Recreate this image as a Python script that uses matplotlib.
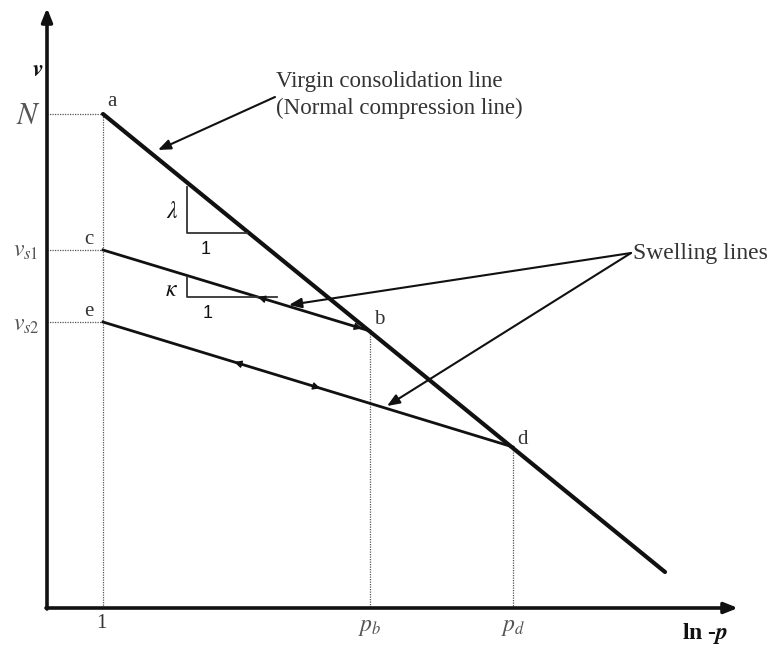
import numpy as np
import matplotlib
matplotlib.use("Agg")
import matplotlib.pyplot as plt

### DIAGRAM DATA (drawing units: x = ln p, y = v, y grows downward) ###

# axis frame
AXIS_ORIGIN = (47, 608)
AXIS_X_END = 738
AXIS_Y_END = 8

# state points
point_names = ["a", "b", "c", "d", "e"]
point_x = [103, 370, 103, 513, 103]
point_y = [114, 331, 250, 447, 322]

# normal compression line: from a, past d
ncl_x = [103, 665]
ncl_y = [114, 572]

# swelling lines: c-b and e-d
swell_x = [[103, 370], [103, 513]]
swell_y = [[250, 331], [322, 447]]

# tick marks on the axes
v_ticks = [114, 250, 322]
v_labels = [r"$N$", r"$v_{s1}$", r"$v_{s2}$"]
p_ticks = [103, 370, 513]
p_labels = ["1", r"$p_b$", r"$p_d$"]

# slope triangles (corner x, top y, bottom y, right x)
tri_lambda = (187, 187, 233, 247)
tri_kappa = (187, 277, 297, 277)

INK = "#111111"
GREY = "#555555"

plt.rcParams["font.family"] = "serif"
plt.rcParams["font.serif"] = ["Liberation Serif", "DejaVu Serif"]
plt.rcParams["mathtext.fontset"] = "stix"


def along(x0, y0, x1, y1, t):
    """point at fraction t from (x0,y0) to (x1,y1)"""
    return x0 + t * (x1 - x0), y0 + t * (y1 - y0)


def head(ax, x0, y0, x1, y1, t, back=False):
    """small arrowhead sitting on a line at fraction t"""
    tip = along(x0, y0, x1, y1, t)
    tail = along(x0, y0, x1, y1, t + (0.03 if back else -0.03))
    ax.annotate("", xy=tip, xytext=tail,
                arrowprops=dict(arrowstyle="-|>", color=INK, lw=1.0,
                                mutation_scale=11, shrinkA=0, shrinkB=0))


fig = plt.figure(figsize=(7.72, 6.46), dpi=100)
ax = fig.add_axes([0, 0, 1, 1])
ax.set_xlim(0, 772)
ax.set_ylim(646, 0)
ax.axis("off")

# axes with arrows
ox, oy = AXIS_ORIGIN
ax.annotate("", xy=(AXIS_X_END, oy), xytext=(ox - 1, oy),
            arrowprops=dict(arrowstyle="-|>,head_length=0.5,head_width=0.2",
                            color=INK, lw=2.6, mutation_scale=16,
                            shrinkA=0, shrinkB=0))
ax.annotate("", xy=(ox, AXIS_Y_END), xytext=(ox, oy + 1),
            arrowprops=dict(arrowstyle="-|>,head_length=0.5,head_width=0.2",
                            color=INK, lw=2.6, mutation_scale=16,
                            shrinkA=0, shrinkB=0))

# dotted guides
for y in v_ticks:
    ax.plot([ox, 103], [y, y], color=GREY, lw=0.9, ls=(0, (1, 1)))
for x, y in zip(p_ticks, [114, 331, 447]):
    ax.plot([x, x], [y, oy], color=GREY, lw=0.9, ls=(0, (1, 1)))

# lines
ax.plot(ncl_x, ncl_y, color=INK, lw=3.0, solid_capstyle="round")
for xs, ys in zip(swell_x, swell_y):
    ax.plot(xs, ys, color=INK, lw=2.0)

# loading / unloading arrowheads on swelling lines
(cx0, cx1), (cy0, cy1) = swell_x[0], swell_y[0]
head(ax, cx0, cy0, cx1, cy1, 0.58, back=True)
head(ax, cx0, cy0, cx1, cy1, 0.97)
(ex0, ex1), (ey0, ey1) = swell_x[1], swell_y[1]
head(ax, ex0, ey0, ex1, ey1, 0.32, back=True)
head(ax, ex0, ey0, ex1, ey1, 0.53)

# slope triangles
for (x0, ytop, ybot, xr) in [tri_lambda, tri_kappa]:
    ax.plot([x0, x0, xr], [ytop, ybot, ybot], color="#333333", lw=1.3)
ax.text(172, 212, r"$\lambda$", fontsize=17, ha="center", va="center", color=INK)
ax.text(206, 250, "1", fontsize=13, ha="center", va="center",
        color=INK, family="Liberation Sans")
ax.text(171, 290, r"$\kappa$", fontsize=17, ha="center", va="center", color=INK)
ax.text(208, 313, "1", fontsize=13, ha="center", va="center",
        color=INK, family="Liberation Sans")

# point labels
label_off = {"a": (9, -12), "b": (9, -11), "c": (-14, -11),
             "d": (9, -8), "e": (-14, -11)}
for name, x, y in zip(point_names, point_x, point_y):
    dx, dy = label_off[name]
    ax.text(x + dx, y + dy, name, fontsize=15, ha="center", va="center", color="#333333")

# axis tick labels
ax.text(28, 116, v_labels[0], fontsize=22, ha="center", va="center", color=GREY)
ax.text(26, 252, v_labels[1], fontsize=17, ha="center", va="center", color=GREY)
ax.text(26, 326, v_labels[2], fontsize=17, ha="center", va="center", color=GREY)
ax.text(101, 623, p_labels[0], fontsize=15, ha="center", va="center", color="#333333")
ax.text(370, 627, p_labels[1], fontsize=17, ha="center", va="center", color=GREY)
ax.text(513, 627, p_labels[2], fontsize=17, ha="center", va="center", color=GREY)

# axis titles
ax.text(38, 70, r"$\boldsymbol{v}$", fontsize=17, ha="center", va="center", color=INK)
ax.text(705, 633, r"ln -$\boldsymbol{p}$", fontsize=17, fontweight="bold",
        ha="center", va="center", color=INK)

# callouts
ax.text(276, 95, "Virgin consolidation line\n(Normal compression line)",
        fontsize=16.5, ha="left", va="center", color="#333333", linespacing=1.4)
ax.annotate("", xy=(158, 150), xytext=(275, 97),
            arrowprops=dict(arrowstyle="-|>,head_length=0.5,head_width=0.2",
                            color=INK, lw=1.5, mutation_scale=15,
                            shrinkA=0, shrinkB=0))

ax.text(633, 253, "Swelling lines", fontsize=17, ha="left", va="center", color="#333333")
for tip in [(289, 305), (387, 406)]:
    ax.annotate("", xy=tip, xytext=(631, 253),
                arrowprops=dict(arrowstyle="-|>,head_length=0.5,head_width=0.2",
                                color=INK, lw=1.5, mutation_scale=15,
                                shrinkA=0, shrinkB=0))

fig.savefig("out.png", dpi=100, facecolor="white")
